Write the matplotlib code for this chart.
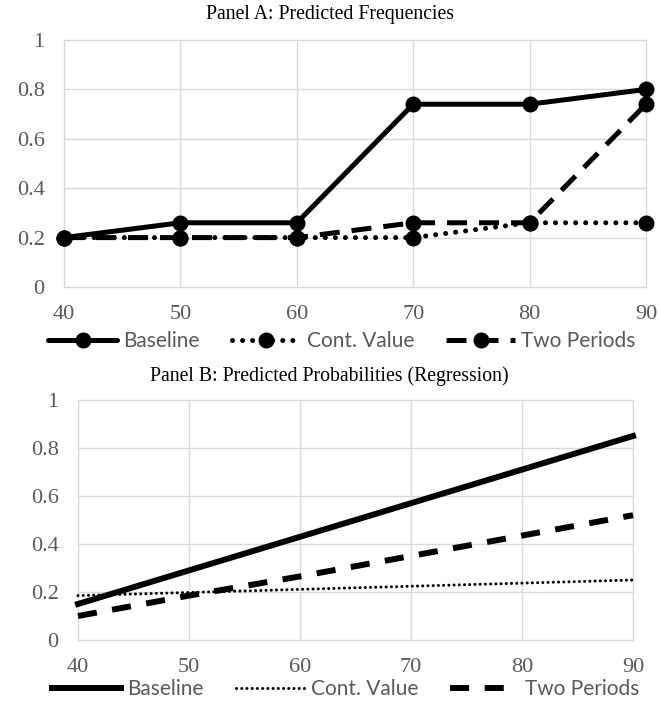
import matplotlib
matplotlib.use("Agg")
import matplotlib.pyplot as plt
from matplotlib.lines import Line2D

# ---- data ----
ages = [40, 50, 60, 70, 80, 90]
freq_baseline = [0.20, 0.26, 0.26, 0.74, 0.74, 0.80]
freq_cont_value = [0.20, 0.20, 0.20, 0.20, 0.26, 0.26]
freq_two_periods = [0.20, 0.20, 0.20, 0.26, 0.26, 0.74]

prob_baseline = [0.15, 0.29, 0.43, 0.57, 0.71, 0.85]
prob_cont_value = [0.185, 0.198, 0.211, 0.224, 0.237, 0.25]
prob_two_periods = [0.10, 0.185, 0.265, 0.35, 0.435, 0.52]

series_labels = ["Baseline", "Cont. Value", "Two Periods"]
x_ticks = [40, 50, 60, 70, 80, 90]
y_ticks = [0, 0.2, 0.4, 0.6, 0.8, 1]
y_tick_labels = ["0", "0.2", "0.4", "0.6", "0.8", "1"]
title_a = "Panel A: Predicted Frequencies"
title_b = "Panel B: Predicted Probabilities (Regression)"

W, H = 659, 704
fig = plt.figure(figsize=(W / 100, H / 100), dpi=100)

SERIF = "Liberation Serif"
SANS = "Lato"
GREY = "#595959"
GRID = "#d9d9d9"


def style_axes(ax):
    ax.set_xlim(40, 90)
    ax.set_ylim(0, 1)
    ax.set_xticks(x_ticks)
    ax.set_yticks(y_ticks)
    ax.set_xticklabels([str(v) for v in x_ticks], fontfamily=SERIF, fontsize=16, color=GREY)
    ax.set_yticklabels(y_tick_labels, fontfamily=SERIF, fontsize=16, color=GREY)
    ax.tick_params(axis="both", length=0)
    ax.tick_params(axis="x", pad=13)
    ax.tick_params(axis="y", pad=14)
    for s in ax.spines.values():
        s.set_visible(False)
    ax.grid(True, color=GRID, linewidth=1.0, clip_on=False)
    ax.set_axisbelow(True)


def make_legend(handles, xc, yc):
    leg = fig.legend(handles, series_labels, loc="center",
                     bbox_to_anchor=(xc / W, 1 - yc / H), ncol=3, frameon=False,
                     numpoints=1, handlelength=3.3, handletextpad=0.3, columnspacing=1.55,
                     borderpad=0, prop={"family": SANS, "size": 15})
    for t in leg.get_texts():
        t.set_color(GREY)
    return leg


# ---- Panel A ----
axA = fig.add_axes([64 / W, 1 - 287 / H, (646 - 64) / W, 247 / H])
style_axes(axA)
lw_a = 3.6
ms = 10.5
lA1, = axA.plot(ages, freq_baseline, color="black", lw=lw_a, marker="o", ms=ms,
                clip_on=False, zorder=3, solid_capstyle="round")
lA2, = axA.plot(ages, freq_cont_value, color="black", lw=lw_a, marker="o", ms=ms,
                linestyle=(0, (0.01, 2.0)), dash_capstyle="round", clip_on=False, zorder=3)
lA3, = axA.plot(ages, freq_two_periods, color="black", lw=lw_a, marker="o", ms=ms,
                linestyle=(0, (4.0, 2.4)), dash_capstyle="butt", clip_on=False, zorder=3)

fig.text(0.5, 1 - 15 / H, title_a, ha="center", va="center",
         fontfamily=SERIF, fontsize=14.2, color="black")
make_legend([lA1, lA2, lA3], 342, 341)

# ---- Panel B ----
axB = fig.add_axes([78 / W, 1 - 640 / H, (633 - 78) / W, 240 / H])
style_axes(axB)
lB1, = axB.plot(ages, prob_baseline, color="black", lw=4.3, clip_on=False, zorder=3)
lB2, = axB.plot(ages, prob_cont_value, color="black", lw=2.2,
                linestyle=(0, (0.01, 1.7)), dash_capstyle="round", clip_on=False, zorder=3)
lB3, = axB.plot(ages, prob_two_periods, color="black", lw=4.3,
                linestyle=(0, (3.2, 2.6)), dash_capstyle="butt", clip_on=False, zorder=3)

fig.text(0.5, 1 - 376 / H, title_b, ha="center", va="center",
         fontfamily=SERIF, fontsize=14.2, color="black")
make_legend([lB1, lB2, lB3], 346, 689)

fig.savefig("out.png", dpi=100)
